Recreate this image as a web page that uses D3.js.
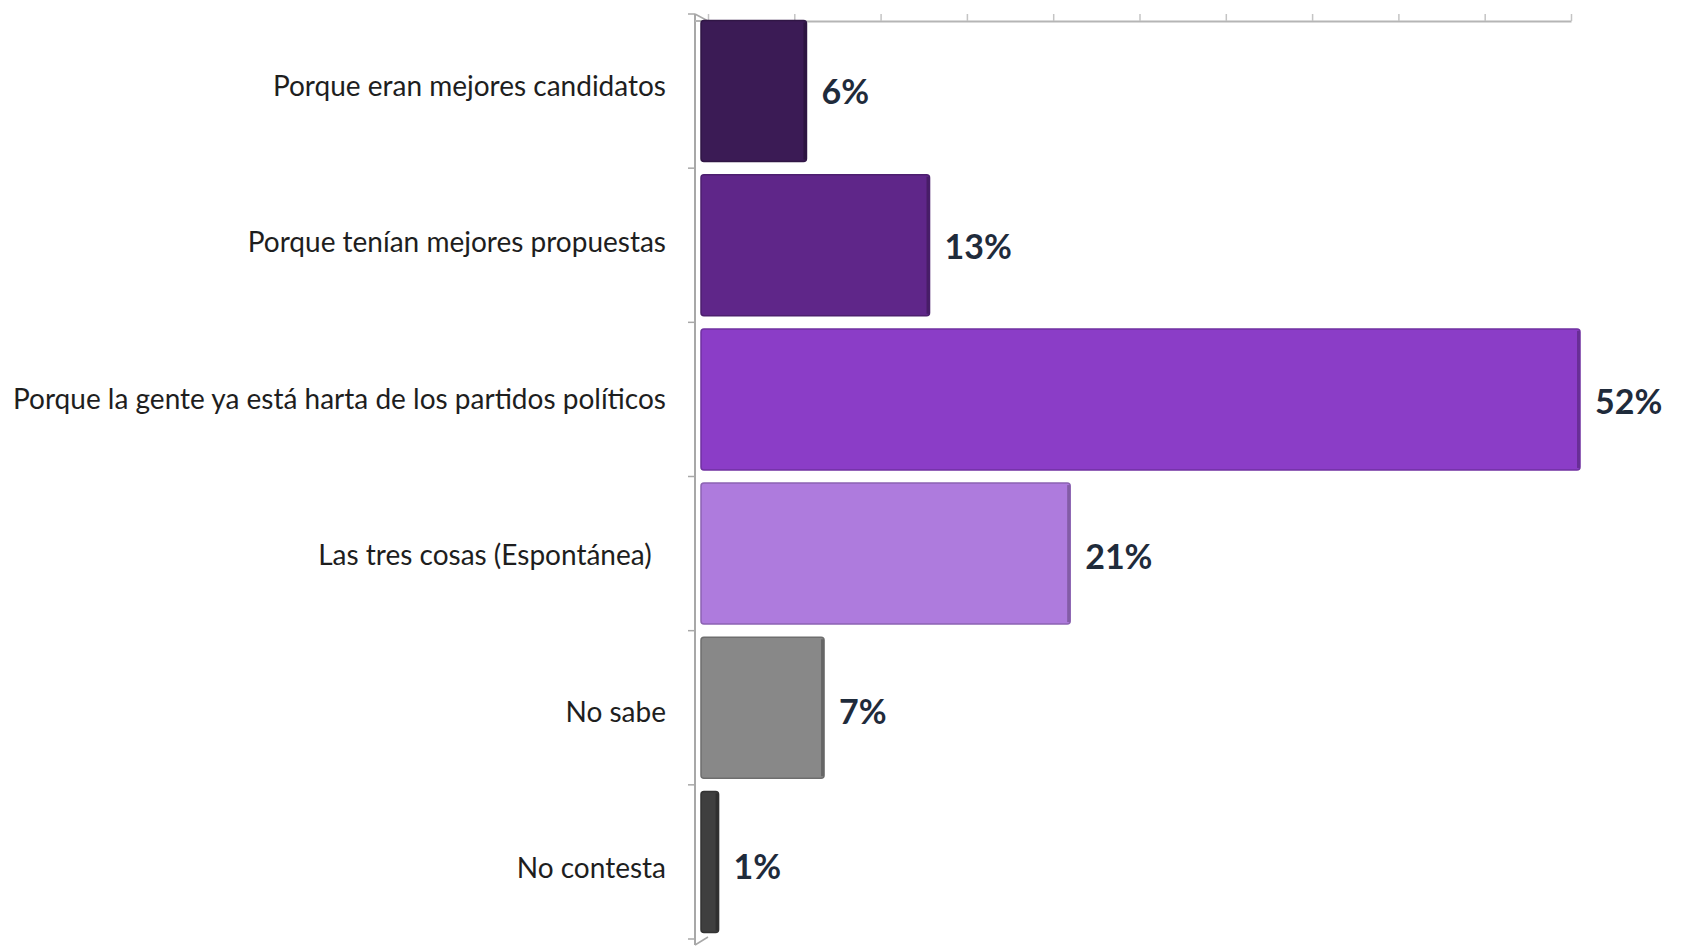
<!DOCTYPE html>
<html>
<head>
<meta charset="utf-8">
<script src="https://cdn.jsdelivr.net/npm/d3@7"></script>
<style>
  html, body { margin: 0; padding: 0; background: #ffffff; }
  svg { display: block; }
  text { font-family: Lato, "Open Sans", sans-serif; }
</style>
</head>
<body>
<svg id="chart" width="1691" height="952"></svg>
<script>
// ---- data ----
const categories = [
  "Porque eran mejores candidatos",
  "Porque tenían mejores propuestas",
  "Porque la gente ya está harta de los partidos políticos",
  "Las tres cosas (Espontánea)  ",
  "No sabe",
  "No contesta"
];
const values = [6, 13, 52, 21, 7, 1];
const valueLabels = ["6%", "13%", "52%", "21%", "7%", "1%"];
const barColors = ["#3b1b55", "#5f2689", "#8b3dc7", "#ae7bdd", "#888888", "#3f3f3f"];
const axisTicks = [0, 5, 10, 15, 20, 25, 30, 35, 40, 45, 50];
const axisMax = 50;

// ---- layout ----
const svg = d3.select("#chart");
const x = d3.scaleLinear().domain([0, axisMax]).range([701, 1580]);       // front face of bars
const xBack = d3.scaleLinear().domain([0, axisMax]).range([708, 1571]);   // back wall axis
const y = d3.scaleBand().domain(categories).range([14, 939]).paddingInner(0.085).paddingOuter(0.0425);
const yCat = d3.scaleBand().domain(categories).range([10.2, 949.2]);      // category label rows (perspective)
const yVal = d3.scaleBand().domain(categories).range([17.9, 947.9]);      // value label rows
const clip = v => Math.min(v, axisMax);  // 3D chart clips bars at the axis maximum

// top axis (Excel-style, no labels)
const topAxis = d3.axisTop(xBack).tickValues(axisTicks).tickFormat("").tickSize(7).tickSizeOuter(0);
const gTop = svg.append("g").attr("transform", "translate(0,21)").call(topAxis);
gTop.select(".domain").attr("stroke", "#b5b5b5").attr("stroke-width", 2);
gTop.selectAll(".tick line").attr("stroke", "#c4c4c4").attr("stroke-width", 1.5);

// left axis line with depth corner
svg.append("line").attr("x1", 695).attr("x2", 695).attr("y1", 14).attr("y2", 945)
  .attr("stroke", "#a8a8a8").attr("stroke-width", 2);
svg.append("line").attr("x1", 695).attr("x2", 708).attr("y1", 14).attr("y2", 21)
  .attr("stroke", "#a8a8a8").attr("stroke-width", 1.5);
svg.append("line").attr("x1", 695).attr("x2", 708).attr("y1", 945).attr("y2", 937)
  .attr("stroke", "#a8a8a8").attr("stroke-width", 1.5);
svg.append("line").attr("x1", 695).attr("x2", 708).attr("y1", 21).attr("y2", 21)
  .attr("stroke", "#b5b5b5").attr("stroke-width", 2);

// left axis ticks at band boundaries
const step = y.step();
const boundaries = categories.map(c => y(c) - step * y.paddingInner() / 2)
  .concat([y(categories[categories.length - 1]) + y.bandwidth() + step * y.paddingInner() / 2]);
svg.append("g").selectAll("line").data(boundaries).join("line")
  .attr("x1", 688).attr("x2", 695)
  .attr("y1", d => d).attr("y2", d => d)
  .attr("stroke", "#a8a8a8").attr("stroke-width", 1.5);

// bars
const data = categories.map((c, i) => ({ c, v: values[i], label: valueLabels[i], color: barColors[i] }));
const bars = svg.append("g");
bars.selectAll("rect.bar").data(data).join("rect")
  .attr("class", "bar")
  .attr("x", x(0))
  .attr("y", d => y(d.c))
  .attr("width", d => x(clip(d.v)) - x(0))
  .attr("height", y.bandwidth())
  .attr("rx", 3)
  .attr("fill", d => d.color)
  .attr("stroke", d => d3.color(d.color).darker(0.6))
  .attr("stroke-width", 1.5);
// subtle right-side depth shading
bars.selectAll("rect.side").data(data).join("rect")
  .attr("class", "side")
  .attr("x", d => x(clip(d.v)) - 3)
  .attr("y", d => y(d.c) + 2)
  .attr("width", 3)
  .attr("height", y.bandwidth() - 4)
  .attr("fill", d => d3.color(d.color).darker(0.8));

// category labels
svg.append("g").selectAll("text").data(data).join("text")
  .attr("x", 666)
  .attr("y", d => yCat(d.c) + yCat.bandwidth() / 2)
  .attr("text-anchor", "end")
  .attr("dominant-baseline", "middle")
  .style("white-space", "pre")
  .attr("font-size", 28)
  .attr("fill", "#1e1e1e")
  .text(d => d.c);

// value labels
svg.append("g").selectAll("text").data(data).join("text")
  .attr("x", d => x(clip(d.v)) + 15)
  .attr("y", d => yVal(d.c) + yVal.bandwidth() / 2)
  .attr("dominant-baseline", "middle")
  .attr("font-size", 34)
  .attr("font-weight", "bold")
  .attr("fill", "#1f2b3b")
  .text(d => d.label);
</script>
</body>
</html>
